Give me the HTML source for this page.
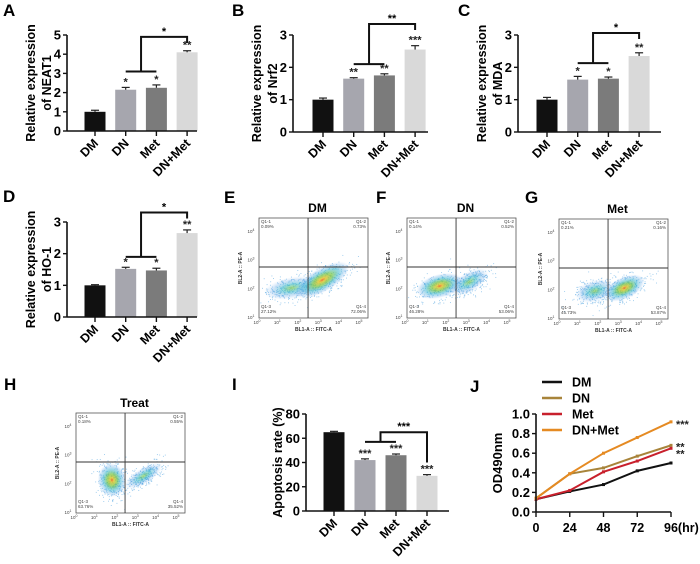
<!DOCTYPE html>
<html><head><meta charset="utf-8"><style>
html,body{margin:0;padding:0;background:#fff;}
svg{display:block;font-family:"Liberation Sans",Arial,sans-serif;}
</style></head><body>
<svg id="fig" width="700" height="564" viewBox="0 0 700 564" xmlns="http://www.w3.org/2000/svg">
<defs>
<radialGradient id="dens" cx="50%" cy="50%" r="50%">
<stop offset="0" stop-color="#e8602a" stop-opacity="0.9"/><stop offset="0.12" stop-color="#e8c830" stop-opacity="0.85"/><stop offset="0.35" stop-color="#7cc848" stop-opacity="0.75"/><stop offset="0.6" stop-color="#3cb8d0" stop-opacity="0.55"/><stop offset="0.85" stop-color="#7ab4ec" stop-opacity="0.3"/><stop offset="1" stop-color="#b8d4f4" stop-opacity="0"/>
</radialGradient>
<radialGradient id="dens2" cx="50%" cy="50%" r="50%">
<stop offset="0" stop-color="#8fd050" stop-opacity="0.75"/><stop offset="0.35" stop-color="#3cbcc8" stop-opacity="0.55"/><stop offset="0.7" stop-color="#6aa8e8" stop-opacity="0.3"/><stop offset="1" stop-color="#b8d4f4" stop-opacity="0"/>
</radialGradient>
</defs>
</svg>
<script>
// ---------- data ----------
const cats = ["DM","DN","Met","DN+Met"];
const aValues = [1.0, 2.15, 2.25, 4.1];
const aErrors = [0.08, 0.12, 0.15, 0.08];
const aStars = ["", "*", "*", "**"];
const aTicks = [0,1,2,3,4,5];
const aBracket = [3.1, 4.9];
const aBracketStar = "*";
const bValues = [1.0, 1.65, 1.75, 2.55];
const bErrors = [0.05, 0.03, 0.05, 0.12];
const bStars = ["", "**", "**", "***"];
const bTicks = [0,1,2,3];
const bBracket = [2.1, 3.34];
const bBracketStar = "**";
const cValues = [1.0, 1.62, 1.65, 2.35];
const cErrors = [0.07, 0.1, 0.05, 0.1];
const cStars = ["", "*", "*", "**"];
const cTicks = [0,1,2,3];
const cBracket = [2.13, 3.06];
const cBracketStar = "*";
const dValues = [1.0, 1.52, 1.47, 2.65];
const dErrors = [0.02, 0.05, 0.07, 0.1];
const dStars = ["", "*", "*", "**"];
const dTicks = [0,1,2,3];
const dBracket = [1.9, 3.3];
const dBracketStar = "*";
const iValues = [65, 42, 46, 29];
const iErrors = [0.7, 1, 1, 1];
const iStars = ["", "***", "***", "***"];
const iTicks = [0,20,40,60,80];
const iBracket = [57, 65, 40];
const iBracketStar = "***";
const jHours = [0,24,48,72,96];
const jSeriesNames = ["DM","DN","Met","DN+Met"];
const jDM = [0.13, 0.21, 0.28, 0.42, 0.50];
const jDN = [0.14, 0.39, 0.45, 0.57, 0.68];
const jMet = [0.13, 0.22, 0.41, 0.52, 0.65];
const jDNMet = [0.14, 0.39, 0.60, 0.76, 0.92];
const jStars = ["", "**", "**", "***"];
const jYTicks = [0,0.2,0.4,0.6,0.8,1.0];
const flowE = ["0.09%","0.73%","27.12%","72.06%"];
const flowF = ["0.14%","0.52%","46.28%","53.06%"];
const flowG = ["0.21%","0.16%","45.73%","53.87%"];
const flowH = ["0.18%","0.55%","63.76%","35.52%"];

// ---------- helpers ----------
const NS = "http://www.w3.org/2000/svg";
const svg = document.getElementById("fig");
function mk(tag, attrs, parent) {
  const e = document.createElementNS(NS, tag);
  for (const k in attrs) e.setAttribute(k, attrs[k]);
  (parent || svg).appendChild(e);
  return e;
}
function txt(s, attrs, parent) { const t = mk("text", attrs, parent); t.textContent = s; return t; }

const barColors = ["#111111","#a6a6ae","#7b7b7b","#d9d9d9"];

function panelLetter(ch, x, y) {
  const t = txt(ch, {x:x, y:y, "font-size":17, "font-weight":"bold"});
  
  
}

function barChart(id, L, values, errors, stars, ticks, bracket, bstar) {
  const g = mk("g", {});
  
  
  const yMax = ticks[ticks.length-1];
  const y = v => L.zeroY - v / yMax * (L.zeroY - L.topY);
  const xc = i => L.firstX + i * L.step;
  values.forEach((v, i) => {
    const r = mk("rect", {x:xc(i)-L.barW/2, y:y(v), width:L.barW, height:L.zeroY-y(v), fill:barColors[i]}, g);
    
    
    const top = y(v + errors[i]);
    mk("line", {x1:xc(i), x2:xc(i), y1:y(v), y2:top, stroke:"#222", "stroke-width":1.2}, g);
    mk("line", {x1:xc(i)-4, x2:xc(i)+4, y1:top, y2:top, stroke:"#222", "stroke-width":1.2}, g);
    if (stars[i]) {
      const s = txt(stars[i], {x:xc(i), y:top+4, "font-size":11, "font-weight":"bold", "text-anchor":"middle", fill:"#222", transform:"translate(0,-6)"}, g);
      
      
    }
  });
  const ya = mk("line", {x1:L.axisX, x2:L.axisX, y1:L.topY, y2:L.zeroY, stroke:"#111", "stroke-width":1.6}, g);
  
  
  const xa = mk("line", {x1:L.axisX, x2:L.axisEnd, y1:L.zeroY, y2:L.zeroY, stroke:"#111", "stroke-width":1.6}, g);
  
  
  ticks.forEach(t => {
    mk("line", {x1:L.axisX-4, x2:L.axisX, y1:y(t), y2:y(t), stroke:"#111", "stroke-width":1.4}, g);
    const tl = txt(String(t), {x:L.axisX-6, y:y(t)+4.5, "font-size":13, "font-weight":"bold", "text-anchor":"end"}, g);
    
    
  });
  cats.forEach((c, i) => {
    mk("line", {x1:xc(i), x2:xc(i), y1:L.zeroY, y2:L.zeroY+5, stroke:"#111", "stroke-width":1.4}, g);
    const xl = txt(c, {x:0, y:0, "font-size":12.5, "font-weight":"bold", "text-anchor":"end", transform:"translate(" + (xc(i)+4) + "," + (L.zeroY+13) + ") rotate(-45)"}, g);
    
    
  });
  const cy = (L.zeroY + L.topY) / 2;
  L.ylab.forEach((s, k) => {
    const t = txt(s, {x:0, y:0, "font-size":12.5, "font-weight":"bold", "text-anchor":"middle", transform:"translate(" + L.ylx[k] + "," + cy + ") rotate(-90)"}, g);
    
    
  });
  const bg = mk("g", {stroke:"#111", "stroke-width":2, fill:"none"}, g);
  
  
  const lo = y(bracket[0]), hi = y(bracket[1]);
  const mid = (xc(1) + xc(2)) / 2;
  mk("line", {x1:xc(1), x2:xc(2), y1:lo, y2:lo}, bg);
  mk("polyline", {points: mid + "," + lo + " " + mid + "," + hi + " " + xc(3) + "," + hi + " " + xc(3) + "," + (bracket.length > 2 ? y(bracket[2]) : hi + 6)}, bg);
  const bs = txt(bstar, {x:(mid + xc(3)) / 2, y:hi - 2, "font-size":11, "font-weight":"bold", "text-anchor":"middle"}, g);
  
  
}

barChart("a", {axisX:67, zeroY:131, topY:35, firstX:95, step:30.7, barW:21, axisEnd:197, ylab:["Relative expression","of NEAT1"], ylx:[35,51]}, aValues, aErrors, aStars, aTicks, aBracket, aBracketStar);
panelLetter("A", 3, 16);
barChart("b", {axisX:293, zeroY:132, topY:35, firstX:323, step:30.7, barW:21, axisEnd:428, ylab:["Relative expression","of Nrf2"], ylx:[261,277]}, bValues, bErrors, bStars, bTicks, bBracket, bBracketStar);
panelLetter("B", 232, 16);
barChart("c", {axisX:518, zeroY:132, topY:35, firstX:547, step:30.7, barW:21, axisEnd:661, ylab:["Relative expression","of MDA"], ylx:[486,502]}, cValues, cErrors, cStars, cTicks, cBracket, cBracketStar);
panelLetter("C", 458, 16);
barChart("d", {axisX:67, zeroY:317, topY:222, firstX:95, step:30.7, barW:21, axisEnd:197, ylab:["Relative expression","of HO-1"], ylx:[35,51]}, dValues, dErrors, dStars, dTicks, dBracket, dBracketStar);
panelLetter("D", 3, 202);
barChart("i", {axisX:306, zeroY:511, topY:414, firstX:334, step:31, barW:21, axisEnd:449, ylab:["Apoptosis rate (%)"], ylx:[282]}, iValues, iErrors, iStars, iTicks, iBracket, iBracketStar);
panelLetter("I", 232, 390);

// ---------- flow plots ----------
function seeded(s) { return function() { s = (s * 16807) % 2147483647; return (s - 1) / 2147483646; }; }
function flow(id, letter, lx, ly, x0, y0, title, q, clusters, seed) {
  const W = 109, H = 100;
  const g = mk("g", {});
  
  
  panelLetter(letter, lx, ly);
  const tt = txt(title, {x:x0 + W/2 + 4, y:y0 - 6, "font-size":12, "font-weight":"bold", "text-anchor":"middle"}, g);
  
  
  const cg = mk("g", {}, g);
  
  
  const rnd = seeded(seed);
  clusters.forEach(c => {
    const cx = x0 + c[0]*W, cy = y0 + c[1]*H;
    for (let k = 0; k < 320; k++) {
      const a = rnd()*6.283, r = Math.sqrt(-2*Math.log(rnd()+1e-9))*0.55;
      const dx = Math.cos(a)*r*c[2]*W, dy = Math.sin(a)*r*c[3]*H;
      const rot = c[4]*Math.PI/180;
      const px = cx + dx*Math.cos(rot) - dy*Math.sin(rot), py = cy + dx*Math.sin(rot) + dy*Math.cos(rot);
      if (px > x0+1 && px < x0+W-1 && py > y0+1 && py < y0+H-1)
        mk("rect", {x:px, y:py, width:0.9, height:0.9, fill:"#4aa0e0", opacity:0.6}, cg);
    }
    mk("ellipse", {cx:0, cy:0, rx:c[2]*W, ry:c[3]*H, fill:"url(#" + (c[5] ? "dens" : "dens2") + ")", transform:"translate(" + cx + "," + cy + ") rotate(" + c[4] + ")"}, cg);
  });
  const box = mk("rect", {x:x0, y:y0, width:W, height:H, fill:"none", stroke:"#555", "stroke-width":0.8}, g);
  
  
  const vx = x0 + 0.45*W, hy = y0 + 0.49*H;
  const gate = mk("g", {stroke:"#333", "stroke-width":0.9}, g);
  
  
  mk("line", {x1:vx, x2:vx, y1:y0, y2:y0+H}, gate);
  mk("line", {x1:x0, x2:x0+W, y1:hy, y2:hy}, gate);
  const ql = [["Q1-1", x0+2, y0+5, "start"], ["Q1-2", x0+W-2, y0+5, "end"], ["Q1-3", x0+2, y0+H-10, "start"], ["Q1-4", x0+W-2, y0+H-10, "end"]];
  ql.forEach((d, k) => {
    const t = txt(d[0], {x:d[1], y:d[2], "font-size":4.5, fill:"#444", "text-anchor":d[3]}, g);
    
    
    const v = txt(q[k], {x:d[1], y:d[2]+5, "font-size":4.5, fill:"#444", "text-anchor":d[3]}, g);
    
    
  });
  for (let i = 0; i <= 5; i++) {
    const t = txt("10", {x:x0 - 2 + i*20.4, y:y0+H+6, "font-size":4.5, fill:"#444", "text-anchor":"middle"}, g);
    const s = mk("tspan", {dy:-2, "font-size":3.5}, t); s.textContent = String(i);
    
    
  }
  for (let i = 1; i <= 4; i++) {
    const t = txt("10", {x:x0 - 8, y:y0+H+1 - (i-1)*28.7, "font-size":4.5, fill:"#444", "text-anchor":"middle"}, g);
    const s = mk("tspan", {dy:-2, "font-size":3.5}, t); s.textContent = String(i);
    
    
  }
  const xt = txt("BL1-A :: FITC-A", {x:x0 + W/2, y:y0+H+13, "font-size":5, "font-weight":"bold", fill:"#333", "text-anchor":"middle"}, g);
  
  
  const yt = txt("BL2-A :: PE-A", {x:0, y:0, "font-size":5, "font-weight":"bold", fill:"#333", "text-anchor":"middle", transform:"translate(" + (x0-17) + "," + (y0+H/2) + ") rotate(-90)"}, g);
  
  
}
flow("e", "E", 224, 203, 259, 218, "DM", flowE, [[0.3,0.7,0.26,0.11,-10,0],[0.58,0.62,0.28,0.12,-30,1]], 11);
flow("f", "F", 376, 203, 407, 218, "DN", flowF, [[0.3,0.68,0.22,0.12,-15,1],[0.57,0.64,0.2,0.1,-30,0]], 23);
flow("g", "G", 525, 203, 559, 219, "Met", flowG, [[0.33,0.72,0.19,0.11,-15,0],[0.6,0.69,0.2,0.11,-25,1]], 37);
flow("h", "H", 4, 390, 76, 413, "Treat", flowH, [[0.33,0.67,0.13,0.17,-10,1],[0.62,0.63,0.2,0.08,-32,0]], 51);

// ---------- line chart J ----------
(function() {
  const g = mk("g", {});
  
  
  panelLetter("J", 470, 392);
  const ax = 536, ax2 = 671, zy = 512, ty = 414;
  const xs = h => ax + h / 96 * (ax2 - ax);
  const ys = v => zy - v / 1.0 * (zy - ty);
  const series = [jDM, jDN, jMet, jDNMet];
  const cols = ["#111111", "#a8843a", "#c8202c", "#e58a22"];
  const starOff = [0, -1, 3, 0];
  series.forEach((s, k) => {
    const p = mk("polyline", {points: s.map((v, i) => xs(jHours[i]) + "," + ys(v)).join(" "), fill:"none", stroke:cols[k], "stroke-width":2}, g);
    
    
    s.forEach((v, i) => {
      const m = mk("rect", {x:xs(jHours[i])-1.5, y:ys(v)-1.5, width:3, height:3, fill:cols[k]}, g);
      
      
    });
    if (jStars[k]) {
      const st = txt(jStars[k], {x:xs(96)+5, y:ys(s[s.length-1])+6+starOff[k], "font-size":11, "font-weight":"bold", fill:"#222"}, g);
      
      
    }
  });
  const ya = mk("line", {x1:ax, x2:ax, y1:ty, y2:zy, stroke:"#111", "stroke-width":1.6}, g);
  
  
  const xa = mk("line", {x1:ax, x2:ax2, y1:zy, y2:zy, stroke:"#111", "stroke-width":1.6}, g);
  
  
  jYTicks.forEach(t => {
    mk("line", {x1:ax-4, x2:ax, y1:ys(t), y2:ys(t), stroke:"#111", "stroke-width":1.4}, g);
    const l = txt(t.toFixed(1), {x:ax-6, y:ys(t)+4.5, "font-size":13, "font-weight":"bold", "text-anchor":"end"}, g);
    
    
  });
  jHours.forEach((h, i) => {
    mk("line", {x1:xs(h), x2:xs(h), y1:zy, y2:zy+5, stroke:"#111", "stroke-width":1.4}, g);
    const last = i === jHours.length-1;
    const l = txt(last ? h + "(hr)" : String(h), {x:last ? xs(h)-7 : xs(h), y:zy+20, "font-size":12.5, "font-weight":"bold", "text-anchor":last ? "start" : "middle"}, g);
    
    
  });
  const yt = txt("OD490nm", {x:0, y:0, "font-size":13, "font-weight":"bold", "text-anchor":"middle", transform:"translate(502," + ((zy+ty)/2) + ") rotate(-90)"}, g);
  
  
  jSeriesNames.forEach((n, k) => {
    const ly = 382 + k * 16;
    const lg = mk("g", {}, g);
    
    
    mk("line", {x1:542, x2:562, y1:ly, y2:ly, stroke:cols[k], "stroke-width":2.4}, lg);
    txt(n, {x:572, y:ly+4.5, "font-size":12.5, "font-weight":"bold"}, lg);
  });
})();
</script>
</body></html>
